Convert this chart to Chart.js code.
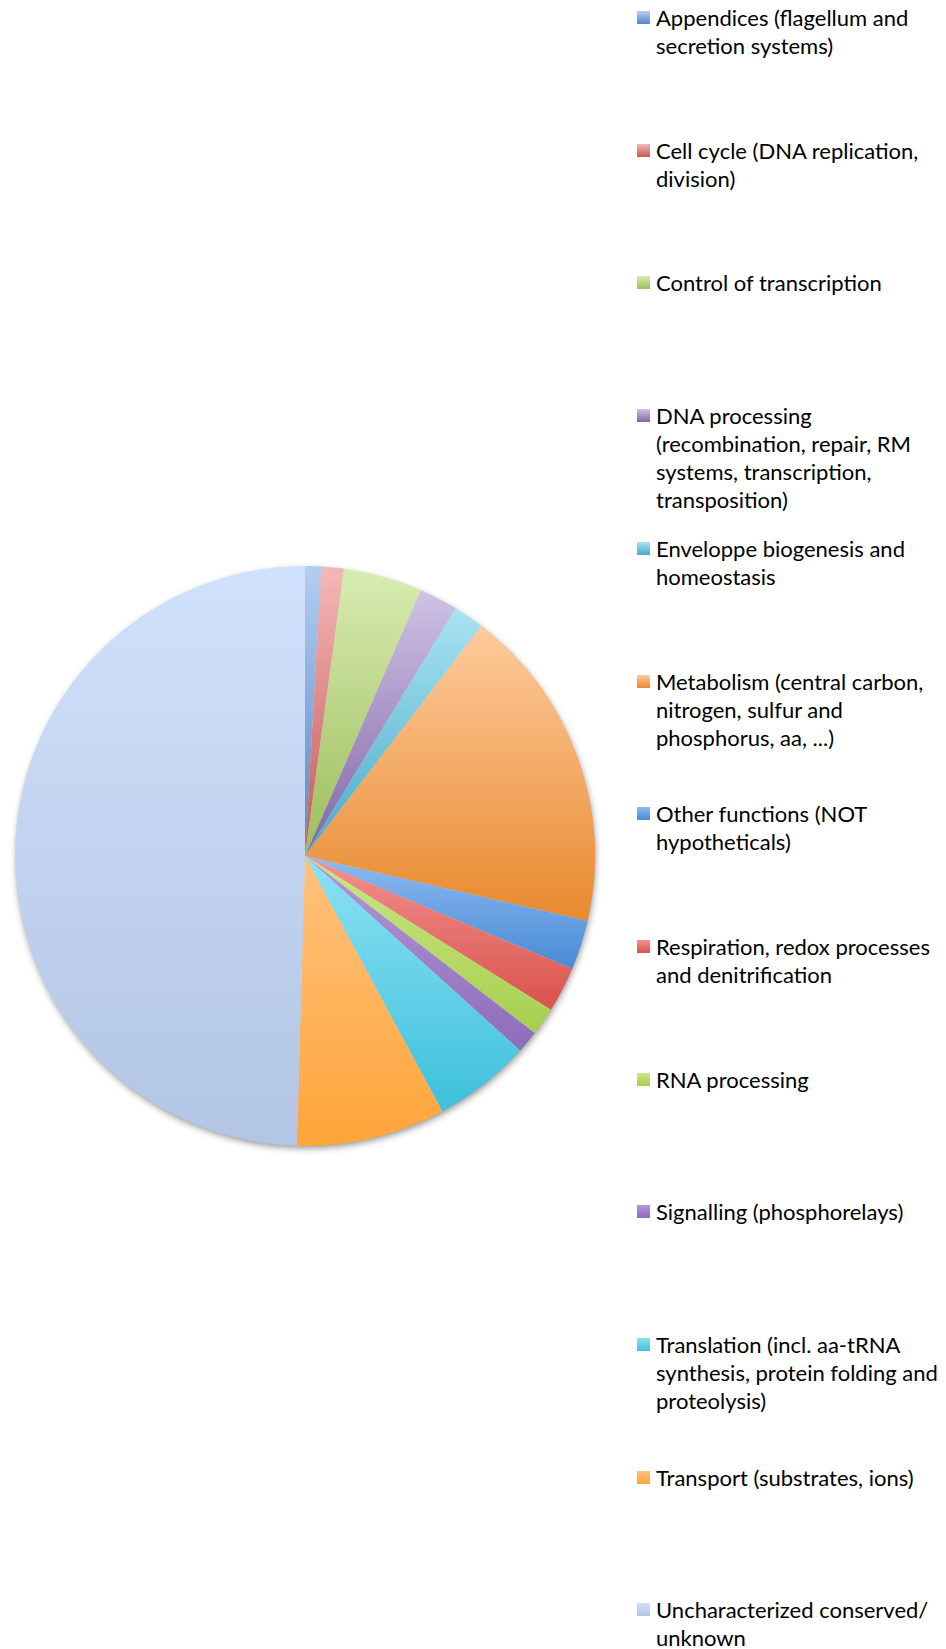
<!DOCTYPE html>
<html lang="en">
<head>
    <meta charset="UTF-8">
    <title>Functional categories</title>
    <script src="https://cdn.jsdelivr.net/npm/chart.js"></script>
    <style>
        html, body { margin: 0; padding: 0; background: #fff; }
        #wrap { position: relative; width: 946px; height: 1649px; overflow: hidden; }
        #pieChart { position: absolute; left: 0; top: 0; }
        #legend { position: absolute; left: 0; top: 0; }
        .item { position: absolute; left: 637px; width: 309px; font-family: Lato, "Open Sans", sans-serif; font-size: 22px; line-height: 28px; color: #000; white-space: nowrap; }
        .box { position: absolute; left: 0; top: 0; width: 13px; height: 13px; }
        .txt { margin-left: 19px; margin-top: -7px; }
    </style>
</head>
<body>
<div id="wrap">
    <canvas id="pieChart" width="620" height="1649"></canvas>
    <div id="legend"></div>
</div>
<script>
    const categories = [
        ['Appendices (flagellum and', 'secretion systems)'],
        ['Cell cycle (DNA replication,', 'division)'],
        ['Control of transcription'],
        ['DNA processing', '(recombination, repair, RM', 'systems, transcription,', 'transposition)'],
        ['Enveloppe biogenesis and', 'homeostasis'],
        ['Metabolism (central carbon,', 'nitrogen, sulfur and', 'phosphorus, aa, ...)'],
        ['Other functions (NOT', 'hypotheticals)'],
        ['Respiration, redox processes', 'and denitrification'],
        ['RNA processing'],
        ['Signalling (phosphorelays)'],
        ['Translation (incl. aa-tRNA', 'synthesis, protein folding and', 'proteolysis)'],
        ['Transport (substrates, ions)'],
        ['Uncharacterized conserved/', 'unknown']
    ];

    // share of genes per category (%)
    const shares = [0.9, 1.25, 4.4, 2.15, 1.7, 18.2, 2.75, 2.55, 1.55, 1.25, 5.45, 8.3, 49.55];

    const lightColors = ['#b4cdf2', '#f4b8b8', '#d8ecb2', '#d0c2e6', '#aae3f4', '#fecb9c', '#8cbaf0', '#f39290', '#cbe784', '#b597d6', '#8ce2f4', '#ffc27e', '#d0e1fc'];
    const darkColors = ['#5887c4', '#c65755', '#9cbd5a', '#8065a4', '#48aac6', '#e8892e', '#4a8ad6', '#d9524c', '#a6cf4e', '#8d6cba', '#3ec0dc', '#ffa53a', '#b2c5e4'];

    // vertical span of slice i, used only for its gradient
    function sliceSpan(area, i) {
        const cx = (area.left + area.right) / 2;
        const cy = (area.top + area.bottom) / 2;
        const r = Math.min(area.right - area.left, area.bottom - area.top) / 2;
        const total = shares.reduce((a, b) => a + b, 0);
        let before = 0;
        for (let k = 0; k < i; k++) before += shares[k];
        const a0 = -Math.PI / 2 + 2 * Math.PI * before / total;
        const a1 = a0 + 2 * Math.PI * shares[i] / total;
        const ys = [cy, cy + r * Math.sin(a0), cy + r * Math.sin(a1)];
        for (const t of [-Math.PI / 2, Math.PI / 2, 3 * Math.PI / 2]) {
            if (t >= a0 && t <= a1) ys.push(cy + r * Math.sin(t));
        }
        return [Math.min(...ys), Math.max(...ys)];
    }

    const pieShadow = {
        id: 'pieShadow',
        beforeDatasetsDraw(chart) {
            const arc = chart.getDatasetMeta(0).data[0];
            if (!arc) return;
            const ctx = chart.ctx;
            ctx.save();
            ctx.shadowColor = 'rgba(0,0,0,0.45)';
            ctx.shadowBlur = 7;
            ctx.shadowOffsetX = 1;
            ctx.shadowOffsetY = 3;
            ctx.fillStyle = '#c8d8f0';
            ctx.beginPath();
            ctx.arc(arc.x, arc.y, arc.outerRadius - 1, 0, Math.PI * 2);
            ctx.fill();
            ctx.restore();
        }
    };

    const ctx = document.getElementById('pieChart').getContext('2d');
    const myChart = new Chart(ctx, {
        type: 'pie',
        data: {
            labels: categories.map(c => c.join(' ')),
            datasets: [{
                data: shares,
                backgroundColor: function(context) {
                    const chart = context.chart;
                    const i = context.dataIndex;
                    if (!chart.chartArea) return darkColors[i];
                    const span = sliceSpan(chart.chartArea, i);
                    const g = chart.ctx.createLinearGradient(0, span[0], 0, span[1]);
                    g.addColorStop(0, lightColors[i]);
                    g.addColorStop(1, darkColors[i]);
                    return g;
                },
                borderWidth: 0
            }]
        },
        options: {
            responsive: false,
            animation: false,
            layout: { padding: { left: 15, right: 25, top: 566, bottom: 503 } },
            plugins: {
                legend: { display: false },
                tooltip: { enabled: false }
            }
        },
        plugins: [pieShadow]
    });

    // legend on the right, one item every ~132.7px
    const legend = document.getElementById('legend');
    categories.forEach((lines, i) => {
        const item = document.createElement('div');
        item.className = 'item';
        item.style.top = (11 + i * 132.7) + 'px';
        const box = document.createElement('div');
        box.className = 'box';
        box.style.background = 'linear-gradient(' + lightColors[i] + ', ' + darkColors[i] + ')';
        const txt = document.createElement('div');
        txt.className = 'txt';
        txt.innerHTML = lines.join('<br>');
        item.appendChild(box);
        item.appendChild(txt);
        legend.appendChild(item);
    });
</script>
</body>
</html>
